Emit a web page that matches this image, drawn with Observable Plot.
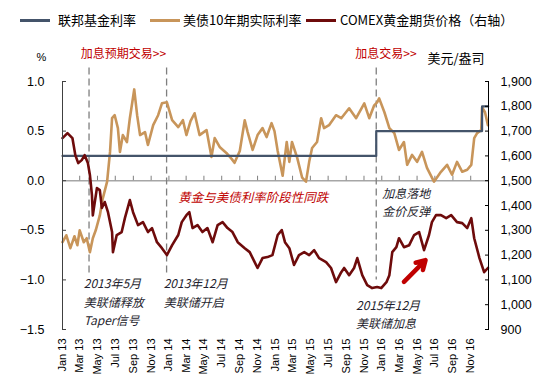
<!DOCTYPE html>
<html><head><meta charset="utf-8">
<script src="https://cdn.jsdelivr.net/npm/d3@7"></script>
<script src="https://cdn.jsdelivr.net/npm/@observablehq/plot@0.6"></script>
<style>
body{margin:0;background:#fff;width:547px;height:387px;overflow:hidden;font-family:"Noto Sans CJK SC",sans-serif}
#legend{position:relative;height:36px;width:547px}
.sw{position:absolute;top:19px;width:30px;height:3px}
.lt{position:absolute;top:11px;font-size:13px;line-height:18px;color:#000;white-space:nowrap}
#chart svg{display:block}
</style></head><body>
<div id="legend"></div>
<div id="chart"></div>
<script>
// ---- data ----
const seriesNames = ["联邦基金利率", "美债10年期实际利率", "COMEX黄金期货价格（右轴）"];
const seriesColors = ["#44546A", "#C8955A", "#6E0B0B"];

const fedDates = ["2013-01-01", "2015-12-13", "2016-12-10", "2016-12-31"];
const fedValues = [0.25, 0.5, 0.75, 0.75];

const realDates = ["2013-01-01","2013-01-14","2013-01-28","2013-02-11","2013-02-21","2013-03-01","2013-03-15","2013-03-25","2013-04-05","2013-04-15",
"2013-04-25","2013-05-09","2013-05-19","2013-06-03","2013-06-13","2013-06-20","2013-06-29","2013-07-10","2013-07-17","2013-07-27",
"2013-08-10","2013-08-20","2013-09-04","2013-09-14","2013-09-24","2013-10-11","2013-10-21","2013-11-08","2013-11-25","2013-12-08",
"2013-12-25","2014-01-12","2014-02-02","2014-02-18","2014-03-02","2014-03-16","2014-03-30","2014-04-16","2014-05-10","2014-05-27",
"2014-06-07","2014-06-24","2014-07-17","2014-08-04","2014-08-14","2014-09-01","2014-09-18","2014-09-28","2014-10-15","2014-11-01",
"2014-11-18","2014-12-02","2014-12-19","2014-12-29","2015-01-09","2015-01-26","2015-02-09","2015-02-18","2015-02-27","2015-03-17",
"2015-04-03","2015-04-16","2015-04-27","2015-05-07","2015-05-24","2015-06-07","2015-06-17","2015-07-04","2015-07-28","2015-08-15",
"2015-09-11","2015-10-05","2015-11-02","2015-11-19","2015-12-06","2015-12-16","2015-12-23","2016-01-10","2016-01-27","2016-02-13",
"2016-02-29","2016-03-17","2016-03-28","2016-04-14","2016-05-01","2016-05-18","2016-06-04","2016-06-28","2016-07-22","2016-08-12",
"2016-08-29","2016-09-15","2016-10-03","2016-10-20","2016-11-03","2016-11-13","2016-11-23","2016-12-07","2016-12-10","2016-12-20",
"2016-12-30"];
const realValues = [-0.62,-0.55,-0.68,-0.56,-0.65,-0.50,-0.62,-0.58,-0.72,-0.58,
-0.50,-0.35,-0.18,-0.01,0.29,0.63,0.66,0.53,0.29,0.46,
0.39,0.63,0.92,0.66,0.46,0.49,0.36,0.56,0.66,0.78,
0.79,0.61,0.54,0.61,0.46,0.60,0.68,0.46,0.51,0.24,
0.43,0.34,0.28,0.22,0.18,0.30,0.61,0.49,0.31,0.46,
0.53,0.44,0.58,0.50,0.30,0.05,0.39,0.19,0.39,0.23,
0.03,-0.01,0.19,0.33,0.39,0.63,0.53,0.56,0.66,0.63,
0.73,0.63,0.78,0.63,0.76,0.79,0.83,0.69,0.53,0.48,
0.31,0.39,0.16,0.26,0.19,0.29,0.13,-0.01,0.09,0.16,
0.06,0.19,0.09,0.11,0.16,0.43,0.48,0.51,0.74,0.69,
0.56];

const goldDates = ["2013-01-01","2013-01-18","2013-02-04","2013-02-14","2013-02-24","2013-03-08","2013-03-18","2013-03-29","2013-04-05","2013-04-12",
"2013-04-15","2013-04-29","2013-05-09","2013-05-16","2013-05-26","2013-06-06","2013-06-20","2013-06-23","2013-07-06","2013-07-23",
"2013-08-03","2013-08-20","2013-08-31","2013-09-17","2013-10-04","2013-10-21","2013-11-04","2013-11-21","2013-12-08","2013-12-25",
"2014-01-12","2014-02-02","2014-02-14","2014-03-02","2014-03-12","2014-03-23","2014-04-09","2014-04-26","2014-05-13","2014-05-31",
"2014-06-17","2014-07-04","2014-07-21","2014-08-07","2014-08-25","2014-09-18","2014-10-05","2014-10-22","2014-11-01","2014-11-18",
"2014-12-05","2014-12-22","2015-01-09","2015-01-23","2015-02-03","2015-02-18","2015-03-06","2015-03-23","2015-04-10","2015-04-27",
"2015-05-14","2015-05-31","2015-06-24","2015-07-11","2015-07-28","2015-08-15","2015-08-25","2015-09-11","2015-09-28","2015-10-09",
"2015-10-26","2015-11-12","2015-11-29","2015-12-16","2015-12-30","2016-01-17","2016-01-27","2016-02-06","2016-02-20","2016-02-29",
"2016-03-17","2016-04-04","2016-04-21","2016-05-08","2016-05-25","2016-06-11","2016-06-21","2016-07-05","2016-07-22","2016-08-09",
"2016-08-26","2016-09-15","2016-10-03","2016-10-20","2016-11-03","2016-11-13","2016-12-01","2016-12-17","2016-12-30"];
const goldValues = [1672,1692,1672,1603,1571,1583,1603,1571,1523,1442,
1360,1470,1462,1390,1414,1373,1293,1212,1281,1293,
1349,1422,1373,1321,1333,1293,1309,1252,1228,1200,
1240,1281,1333,1361,1373,1309,1321,1293,1309,1252,
1321,1333,1309,1293,1252,1228,1212,1172,1148,1188,
1192,1200,1281,1301,1252,1228,1160,1200,1212,1200,
1220,1188,1172,1148,1091,1131,1148,1119,1148,1188,
1119,1079,1067,1071,1067,1091,1119,1212,1232,1268,
1232,1240,1281,1293,1220,1281,1333,1361,1361,1349,
1361,1333,1329,1309,1349,1268,1188,1131,1148];

const leftTicks = [-1.5, -1.0, -0.5, 0.0, 0.5, 1.0];
const rightTicks = [900, 1000, 1100, 1200, 1300, 1400, 1500, 1600, 1700, 1800, 1900];
const xTickStart = "2013-01-01", xTickEnd = "2016-12-01";

const eventDates = ["2013-04-02", "2013-12-24", "2015-12-13"];
const eventTop = [1.135, 1.135, 1.135];
const eventBottom = [-0.95, -0.95, -1.0];

const headerNotes = [
  {date: "2013-03-05", v: 1.276, text: "加息预期交易>>"},
  {date: "2015-10-02", v: 1.276, text: "加息交易>>"}
];
const redNotes = [{date: "2014-02-02", v: -0.175, text: "黄金与美债利率阶段性同跌"}];
const eventNotes = [
  {date: "2013-03-15", v: -1.045, text: "2013年5月"},
  {date: "2013-03-15", v: -1.235, text: "美联储释放"},
  {date: "2013-03-15", v: -1.42, text: "Taper信号"},
  {date: "2013-12-14", v: -1.045, text: "2013年12月"},
  {date: "2013-12-14", v: -1.235, text: "美联储开启"},
  {date: "2016-01-03", v: -0.135, text: "加息落地"},
  {date: "2016-01-03", v: -0.318, text: "金价反弹"},
  {date: "2015-10-05", v: -1.265, text: "2015年12月"},
  {date: "2015-10-05", v: -1.448, text: "美联储加息"}
];
const arrowNote = [{from: "2016-03-17", fromV: -1.02, to: "2016-05-30", toV: -0.80}];

// ---- build ----
const parse = d3.utcParse("%Y-%m-%d");
const toV = p => (p - 1500) / 400;
const x0 = parse("2013-01-01"), x1 = parse("2017-01-01");
const realData = realDates.map((d, i) => ({date: parse(d), v: realValues[i]}));
const goldData = goldDates.map((d, i) => ({date: parse(d), v: toV(goldValues[i])}));
const fedData = fedDates.map((d, i) => ({date: parse(d), v: fedValues[i]}));
const xTicks = d3.utcMonths(parse(xTickStart), d3.utcDay.offset(parse(xTickEnd), 1), 2);
const zeroTicks = xTicks.slice(1);
const events = eventDates.map((d, i) => ({date: parse(d), top: eventTop[i], bottom: eventBottom[i]}));
const P = arr => arr.map(d => ({...d, date: parse(d.date)}));
const arrows = arrowNote.map(d => ({x1: parse(d.from), y1: d.fromV, x2: parse(d.to), y2: d.toV}));

// legend
const legend = document.getElementById("legend");
const swX = [20, 150, 306], txX = [58, 183, 340];
seriesNames.forEach((n, i) => {
  const s = document.createElement("div"); s.className = "sw";
  s.style.left = swX[i] + "px"; s.style.background = seriesColors[i]; legend.appendChild(s);
  const t = document.createElement("div"); t.className = "lt";
  t.style.left = txX[i] + "px"; t.textContent = n; legend.appendChild(t);
});

const cjk = '"Noto Sans CJK SC", sans-serif';
const latin = '"Liberation Sans", Arial, sans-serif';

const chart = Plot.plot({
  width: 547, height: 351,
  marginTop: 45, marginRight: 59, marginBottom: 58, marginLeft: 62,
  style: {fontFamily: cjk, fontSize: "12px", color: "#000", background: "#fff", overflow: "visible"},
  x: {type: "utc", domain: [x0, x1]},
  y: {domain: [-1.5, 1.0]},
  marks: [
    Plot.ruleY([0], {stroke: "#A6A6A6", strokeWidth: 1.6}),
    Plot.ruleX(zeroTicks, {y1: 0, y2: 0.045, stroke: "#7F7F7F"}),
    Plot.ruleX(events, {x: "date", y1: "top", y2: "bottom", stroke: "#7F7F7F", strokeWidth: 1.3, strokeDasharray: "7,4"}),
    Plot.line(realData, {x: "date", y: "v", stroke: seriesColors[1], strokeWidth: 2.6}),
    Plot.line(fedData, {x: "date", y: "v", curve: "step-after", stroke: seriesColors[0], strokeWidth: 2.2}),
    Plot.line(goldData, {x: "date", y: "v", stroke: seriesColors[2], strokeWidth: 2.6}),
    Plot.ruleX([x0], {y1: -1.5, y2: 1.0, stroke: "#404040"}),
    Plot.ruleX([x1], {y1: -1.5, y2: 1.0, stroke: "#000"}),
    Plot.axisY({anchor: "left", ticks: leftTicks, tickSize: -4, tickPadding: 22,
      tickFormat: d => d.toFixed(1).replace("-", "−"), fontFamily: latin, fontSize: 12.5, stroke: "#404040"}),
    Plot.axisY({anchor: "right", ticks: rightTicks.map(toV), tickSize: -4, tickPadding: 16,
      tickFormat: v => d3.format(",")(Math.round(1500 + 400 * v)), fontFamily: latin, fontSize: 12.5}),
    Plot.axisX({anchor: "bottom", ticks: xTicks, tickFormat: d3.utcFormat("%b %y"), tickRotate: -90,
      tickSize: 0, tickPadding: 9, fontFamily: latin, fontSize: 11}),
    Plot.text(["%"], {frameAnchor: "top-left", dx: -26, dy: -28, fontFamily: latin, fontSize: 11}),
    Plot.text(["美元/盎司"], {frameAnchor: "top-right", dx: -4, dy: -28, fontSize: 13}),
    Plot.text(P(headerNotes), {x: "date", y: "v", text: "text", textAnchor: "start", fill: "#C00000", fontSize: 12}),
    Plot.text(P(redNotes), {x: "date", y: "v", text: "text", textAnchor: "start", fill: "#C00000", fontSize: 12.5, fontStyle: "italic"}),
    Plot.text(P(eventNotes), {x: "date", y: "v", text: "text", textAnchor: "start", fill: "#1F1F2F", fontSize: 12, fontStyle: "italic"}),
    Plot.arrow(arrows, {x1: "x1", y1: "y1", x2: "x2", y2: "y2", stroke: "#C00000", strokeWidth: 4.5, headLength: 9})
  ]
});
document.getElementById("chart").appendChild(chart);
</script>
</body></html>
